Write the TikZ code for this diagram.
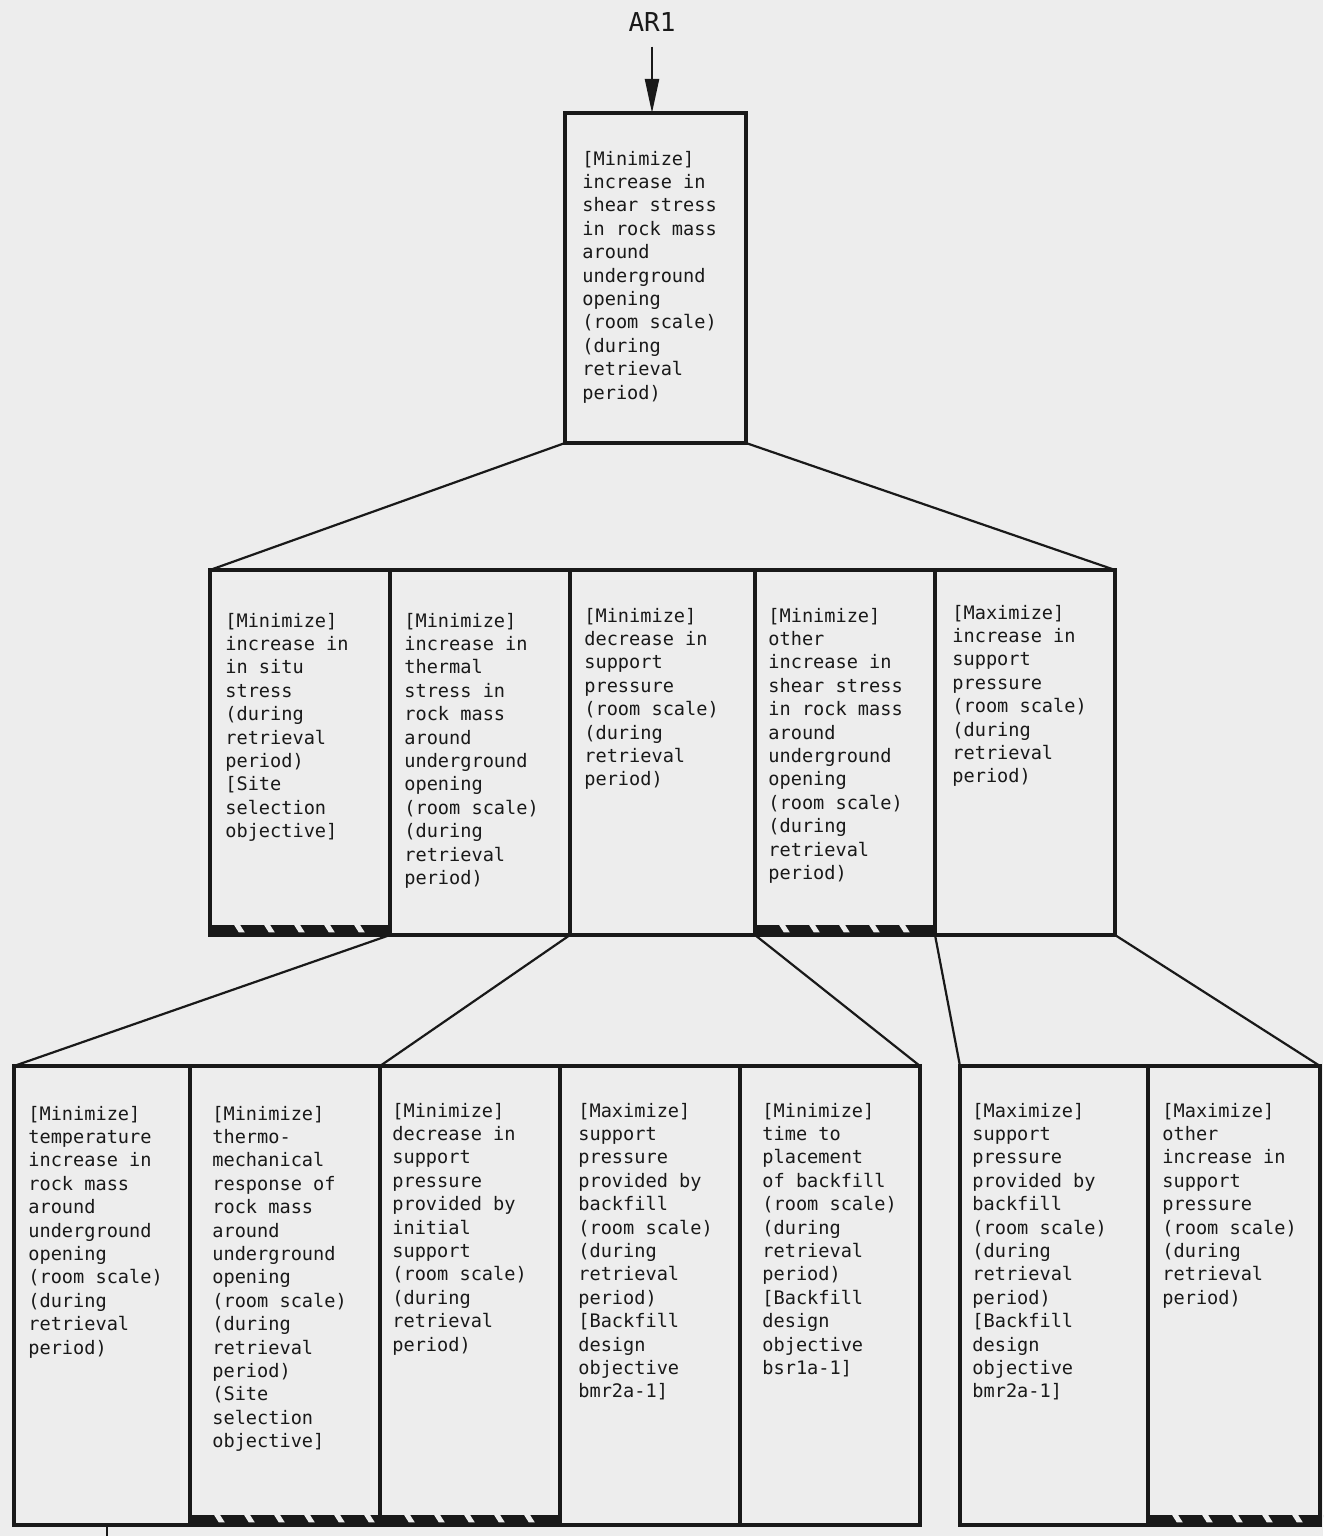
\documentclass[tikz,border=0pt]{standalone}
\usepackage{fontspec}
\newfontfamily\boxfont{DejaVu Sans Mono}
\usetikzlibrary{arrows.meta,positioning,calc}
\definecolor{paper}{gray}{0.93}
\definecolor{ink}{gray}{0.1}

% black band with slanted gaps along the bottom of a box
\newcommand{\hatchbar}[2]{%
  \fill[ink] ([yshift=5pt]#1.south west) rectangle (#1.south east);
  \foreach \k in {1,...,#2}
    \fill[paper] ([xshift=\k*15pt-3pt, yshift=5.1pt]#1.south west) -- ++(3pt,0) -- ++(2.4pt,-3.8pt) -- ++(-3pt,0) -- cycle;
}

\begin{document}
\begin{tikzpicture}[x=0.5pt, y=-0.5pt,
    box/.style={draw=ink, line width=1.8pt, inner sep=0pt, outer sep=0pt, minimum width=90pt},
    midbox/.style={box, minimum height=182.5pt},
    lowbox/.style={box, minimum height=229.5pt},
    txt/.style={font=\boxfont\fontsize{9.3}{11.7}\selectfont, align=left, inner sep=0pt, anchor=north west, text=ink},
    link/.style={draw=ink, line width=1.1pt}
]
\fill[paper] (0,0) rectangle (1323,1536);
\useasboundingbox (0,0) rectangle (1323,1536);

\node[font=\boxfont\fontsize{13}{15}\selectfont, text=ink] (ar) at (652,22) {AR1};
\node[box, minimum width=90.5pt, minimum height=165pt] (top) at (655.5,278) {};

\node[midbox] (m1) at (300,752.5) {};
\node[midbox, right=0pt of m1] (m2) {};
\node[midbox, minimum width=92.5pt, right=0pt of m2] (m3) {};
\node[midbox, right=0pt of m3] (m4) {};
\node[midbox, right=0pt of m4] (m5) {};

\node[lowbox, minimum width=88pt] (b1) at (102,1295.5) {};
\node[lowbox, minimum width=95pt, right=0pt of b1] (b2) {};
\node[lowbox, right=0pt of b2] (b3) {};
\node[lowbox, right=0pt of b3] (b4) {};
\node[lowbox, right=0pt of b4] (b5) {};
\node[lowbox, minimum width=94pt] (b6) at (1054,1295.5) {};
\node[lowbox, minimum width=86pt, right=0pt of b6] (b7) {};

\node[txt] (topt) at ([shift={(8.5pt,-18.8pt)}]top.north west) {[Minimize]\\increase in\\shear stress\\in rock mass\\around\\underground\\opening\\(room scale)\\(during\\retrieval\\period)};

\node[txt] (m1t) at ([shift={(7.5pt,-21.3pt)}]m1.north west) {[Minimize]\\increase in\\in situ\\stress\\(during\\retrieval\\period)\\{[}Site\\selection\\objective]};
\node[txt] (m2t) at ([shift={(7pt,-21.3pt)}]m2.north west) {[Minimize]\\increase in\\thermal\\stress in\\rock mass\\around\\underground\\opening\\(room scale)\\(during\\retrieval\\period)};
\node[txt] (m3t) at ([shift={(7pt,-18.8pt)}]m3.north west) {[Minimize]\\decrease in\\support\\pressure\\(room scale)\\(during\\retrieval\\period)};
\node[txt] (m4t) at ([shift={(6.5pt,-18.8pt)}]m4.north west) {[Minimize]\\other\\increase in\\shear stress\\in rock mass\\around\\underground\\opening\\(room scale)\\(during\\retrieval\\period)};
\node[txt] (m5t) at ([shift={(8.5pt,-17.3pt)}]m5.north west) {[Maximize]\\increase in\\support\\pressure\\(room scale)\\(during\\retrieval\\period)};

\node[txt] (b1t) at ([shift={(7pt,-19.8pt)}]b1.north west) {[Minimize]\\temperature\\increase in\\rock mass\\around\\underground\\opening\\(room scale)\\(during\\retrieval\\period)};
\node[txt] (b2t) at ([shift={(11pt,-19.8pt)}]b2.north west) {[Minimize]\\thermo-\\mechanical\\response of\\rock mass\\around\\underground\\opening\\(room scale)\\(during\\retrieval\\period)\\(Site\\selection\\objective]};
\node[txt] (b3t) at ([shift={(6pt,-18.3pt)}]b3.north west) {[Minimize]\\decrease in\\support\\pressure\\provided by\\initial\\support\\(room scale)\\(during\\retrieval\\period)};
\node[txt] (b4t) at ([shift={(9pt,-18.3pt)}]b4.north west) {[Maximize]\\support\\pressure\\provided by\\backfill\\(room scale)\\(during\\retrieval\\period)\\{[}Backfill\\design\\objective\\bmr2a-1]};
\node[txt] (b5t) at ([shift={(11pt,-18.3pt)}]b5.north west) {[Minimize]\\time to\\placement\\of backfill\\(room scale)\\(during\\retrieval\\period)\\{[}Backfill\\design\\objective\\bsr1a-1]};
\node[txt] (b6t) at ([shift={(6pt,-18.3pt)}]b6.north west) {[Maximize]\\support\\pressure\\provided by\\backfill\\(room scale)\\(during\\retrieval\\period)\\{[}Backfill\\design\\objective\\bmr2a-1]};
\node[txt] (b7t) at ([shift={(7pt,-18.3pt)}]b7.north west) {[Maximize]\\other\\increase in\\support\\pressure\\(room scale)\\(during\\retrieval\\period)};

\hatchbar{m1}{5}
\hatchbar{m4}{5}
\hatchbar{b2}{6}
\hatchbar{b3}{5}
\hatchbar{b7}{6}

\draw[link, -{Triangle[length=17pt,width=7pt]}] ([yshift=-4pt]ar.south) -- (ar.south |- top.north);
\draw[link] (top.south west) -- (m1.north west);
\draw[link] (top.south east) -- (m5.north east);
\draw[link] (m2.south west) -- (b1.north west);
\draw[link] (m3.south west) -- (b3.north west);
\draw[link] (m3.south east) -- (b5.north east);
\draw[link] (m5.south west) -- (b6.north west);
\draw[link] (m5.south east) -- (b7.north east);

\coordinate (cut) at (107,1536);
\draw[link] (cut |- b1.south) -- (cut);
\end{tikzpicture}
\end{document}
